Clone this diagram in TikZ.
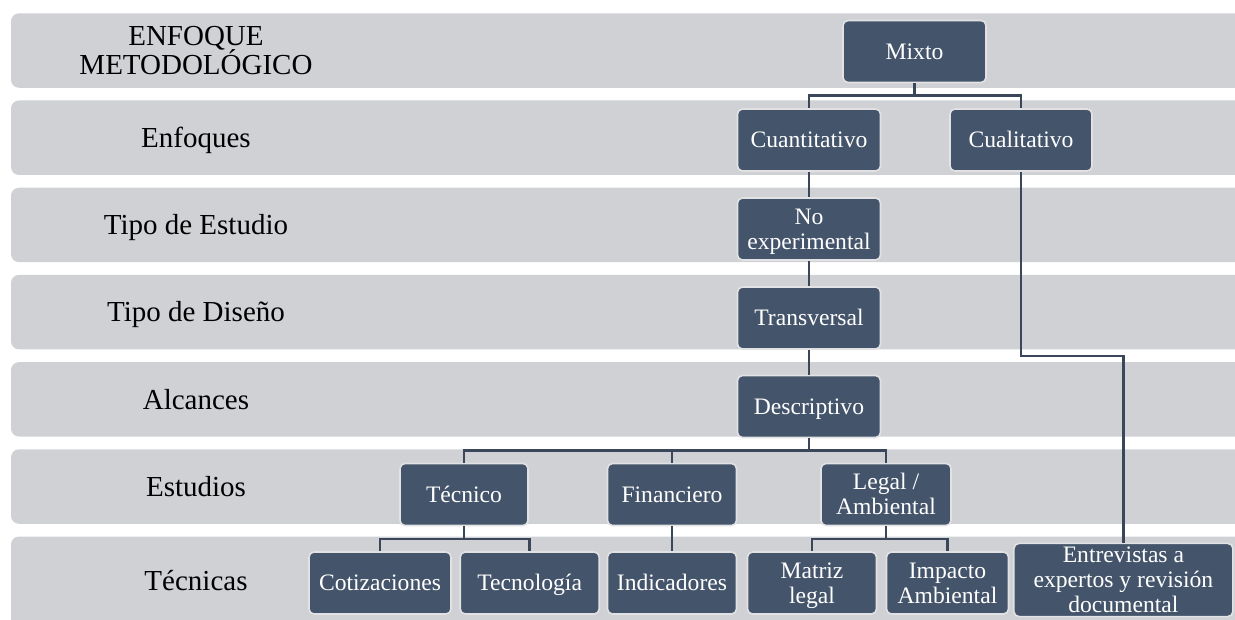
\documentclass[tikz,border=0pt]{standalone}
\usepackage{fontspec}
\setmainfont{Liberation Serif}
\usetikzlibrary{calc}
\definecolor{bandgray}{RGB}{208,209,213}
\definecolor{boxblue}{RGB}{68,84,106}
\definecolor{boxedge}{RGB}{226,226,228}
\definecolor{linecol}{RGB}{58,71,90}
\newcommand\nstr{\rule[-0.216em]{0pt}{1.107em}}
\lineskiplimit=-100pt
\begin{document}
\begin{tikzpicture}[x=1pt,y=-1pt,
  band/.style={fill=bandgray, draw=none, rounded corners=8pt},
  lab/.style={font={\fontsize{29}{29}\selectfont\lineskiplimit=-100pt}, align=center, text=black, inner sep=0pt},
  box/.style={fill=boxblue, draw=boxedge, line width=1.6pt, rounded corners=5pt, text=white,
    font={\fontsize{23.6}{25}\selectfont\lineskiplimit=-100pt}, align=center, inner sep=0pt, minimum height=62pt},
  conn/.style={draw=linecol, line width=2.5pt}]
\useasboundingbox (0,0) rectangle (1235,620);
% background bands
\begin{scope}
\clip (0,0) rectangle (1235,620);
\foreach \t in {13.3,100.5,187.7,274.9,362.1,449.3}
  \fill[band] (11,\t) rectangle (1260,\t+74.5);
\fill[band] (11,536.5) rectangle (1260,650);
\end{scope}
% row labels
\node[lab] (l1) at (196,50) {\nstr ENFOQUE\\\nstr METODOLÓGICO};
\node[lab] (l2) at (196,137.7) {\nstr Enfoques};
\node[lab] (l3) at (196,224.9) {\nstr Tipo de Estudio};
\node[lab] (l4) at (196,312.1) {\nstr Tipo de Diseño};
\node[lab] (l5) at (196,399.3) {\nstr Alcances};
\node[lab] (l6) at (196,486.5) {\nstr Estudios};
\node[lab] (l7) at (196,581) {\nstr Técnicas};
% boxes
\node[box, minimum width=143pt] (mixto) at (914.5,51.5) {\nstr Mixto};
\node[box, minimum width=143pt] (cuant) at (809,140) {\nstr Cuantitativo};
\node[box, minimum width=142pt] (cual) at (1021,140) {\nstr Cualitativo};
\node[box, minimum width=143pt] (noexp) at (809,229) {\nstr No\\\nstr experimental};
\node[box, minimum width=143pt] (trans) at (809,318) {\nstr Transversal};
\node[box, minimum width=143pt] (desc) at (809,406.5) {\nstr Descriptivo};
\node[box, minimum width=128pt] (tecn) at (464,494.5) {\nstr Técnico};
\node[box, minimum width=129pt] (fin) at (672,494.5) {\nstr Financiero};
\node[box, minimum width=130pt] (legal) at (886,494.5) {\nstr Legal /\\\nstr Ambiental};
\node[box, minimum width=142pt] (cotiz) at (380,583) {\nstr Cotizaciones};
\node[box, minimum width=139pt] (tecno) at (529.7,583) {\nstr Tecnología};
\node[box, minimum width=129pt] (indic) at (672,583) {\nstr Indicadores};
\node[box, minimum width=129pt] (matriz) at (812,583) {\nstr Matriz\\\nstr legal};
\node[box, minimum width=122pt] (impacto) at (947.5,583) {\nstr Impacto\\\nstr Ambiental};
\node[box, minimum width=219pt, minimum height=73pt, inner ysep=-1.5pt] (entrev) at (1123.4,580) {\nstr Entrevistas a\\\nstr expertos y revisión\\\nstr documental};
% connectors
\draw[conn] (mixto.south) |- ($(mixto.south)!0.5!(cuant.north)$) -| (cuant.north);
\draw[conn] (mixto.south) |- ($(mixto.south)!0.5!(cual.north)$) -| (cual.north);
\draw[conn] (cuant.south) -- (noexp.north);
\draw[conn] (noexp.south) -- (trans.north);
\draw[conn] (trans.south) -- (desc.north);
\draw[conn] (desc.south) |- ($(desc.south)!0.5!(tecn.north)$) -| (tecn.north);
\draw[conn] (desc.south) |- ($(desc.south)!0.5!(fin.north)$) -| (fin.north);
\draw[conn] (desc.south) |- ($(desc.south)!0.5!(legal.north)$) -| (legal.north);
\draw[conn] (tecn.south) |- ($(tecn.south)!0.5!(cotiz.north)$) -| (cotiz.north);
\draw[conn] (tecn.south) |- ($(tecn.south)!0.5!(tecno.north)$) -| (tecno.north);
\draw[conn] (fin.south) -- (indic.north);
\draw[conn] (legal.south) |- ($(legal.south)!0.5!(matriz.north)$) -| (matriz.north);
\draw[conn] (legal.south) |- ($(legal.south)!0.5!(impacto.north)$) -| (impacto.north);
\coordinate (qbend) at (1021,356);
\draw[conn] (cual.south) |- (entrev.north |- qbend) -- (entrev.north);
\end{tikzpicture}
\end{document}
